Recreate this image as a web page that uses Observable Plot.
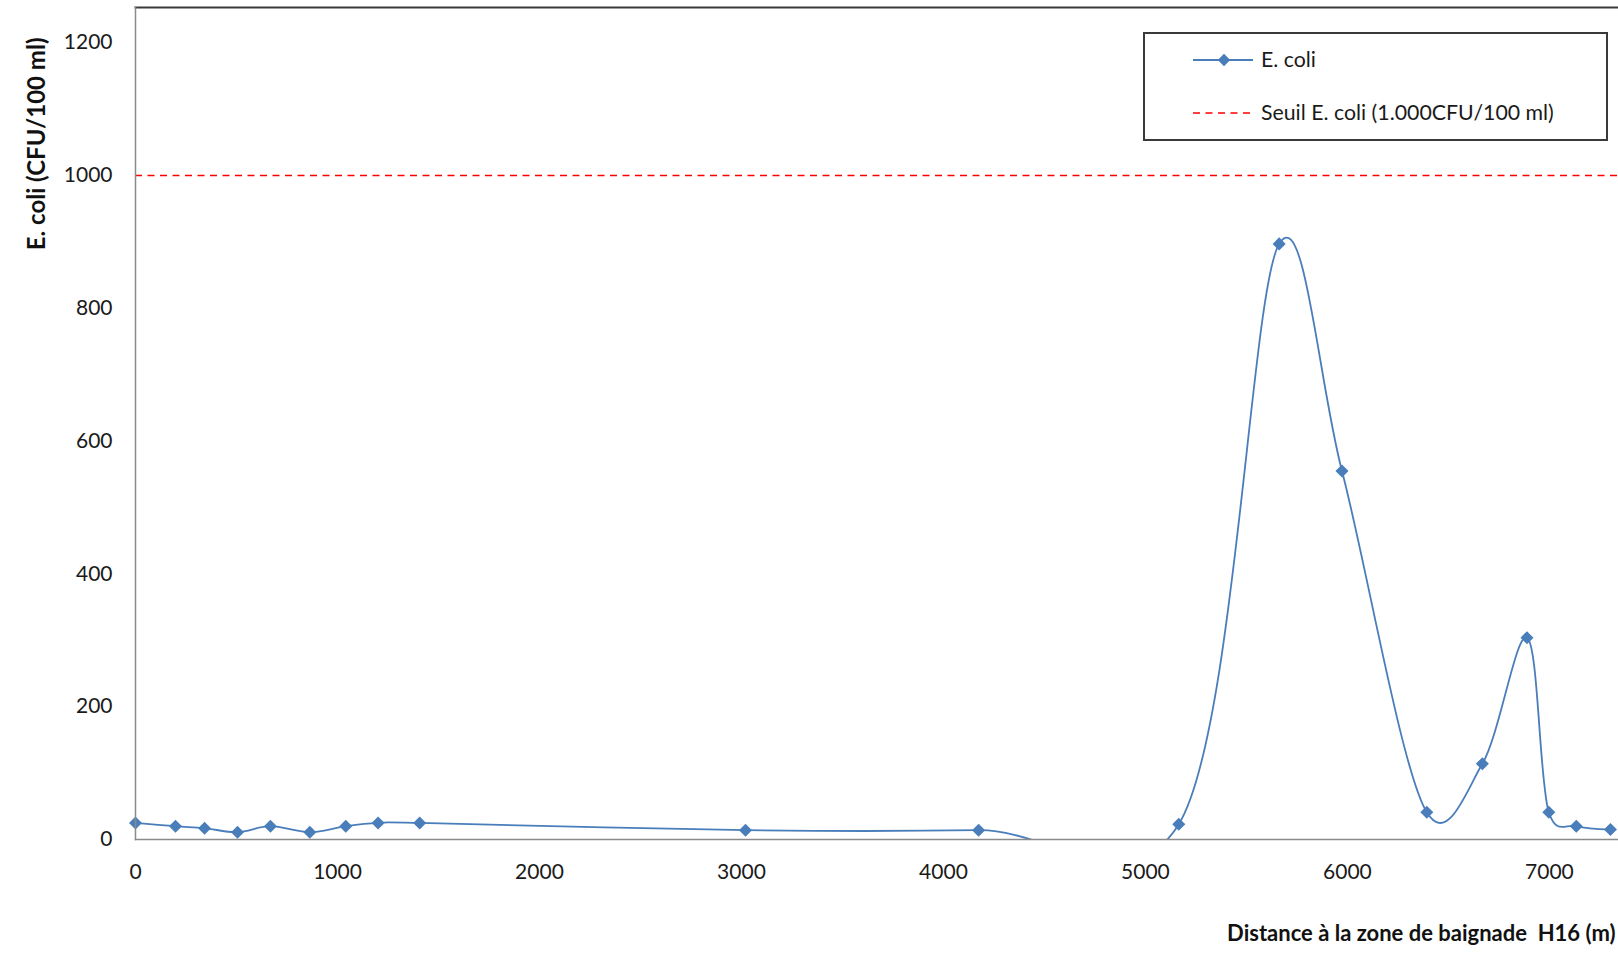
<!DOCTYPE html>
<html>
<head>
<meta charset="utf-8">
<script src="https://cdn.jsdelivr.net/npm/d3@7"></script>
<script src="https://cdn.jsdelivr.net/npm/@observablehq/plot@0.6"></script>
<style>
  html, body { margin: 0; padding: 0; background: white; }
  #wrap { position: relative; width: 1618px; height: 954px; font-family: Lato, "Open Sans", sans-serif; }
  #legend { position: absolute; left: 1143px; top: 32px; width: 461px; height: 105px; border: 2px solid #3a3a3a; background: white; }
  #legend svg { display: block; }
</style>
</head>
<body>
<div id="wrap"></div>
<script>
// ---- data ----
const distances = [0, 198, 342, 505, 668, 863, 1041, 1201, 1407, 3020, 4174, 5165, 5662, 5973, 6393, 6668, 6889, 6997, 7133, 7302];
const ecoli     = [25, 20, 17, 11, 20, 11, 20, 25, 25, 14, 14, 23, 897, 555, 41, 114, 304, 41, 20, 15];
const threshold = [1000];
const xTicks = [0, 1000, 2000, 3000, 4000, 5000, 6000, 7000];
const yTicks = [0, 200, 400, 600, 800, 1000, 1200];
const xDomain = [0, 7342];
const yDomain = [0, 1253];
const seriesName = "E. coli";
const thresholdName = "Seuil E. coli (1.000CFU/100 ml)";
const xTitle = "Distance à la zone de baignade  H16 (m)";
const yTitle = "E. coli (CFU/100 ml)";

const blue = "#4a7ebb";
const red = "#ff0000";

const data = distances.map((d, i) => ({distance: d, value: ecoli[i]}));

const chart = Plot.plot({
  width: 1618,
  height: 954,
  marginLeft: 135,
  marginRight: 0,
  marginTop: 7,
  marginBottom: 115,
  style: {fontFamily: "Lato, 'Open Sans', sans-serif", fontSize: "21px", color: "#1a1a1a", background: "white", overflow: "visible"},
  x: {domain: xDomain},
  y: {domain: yDomain},
  marks: [
    Plot.frame({anchor: "top", stroke: "#3a3a3a", strokeWidth: 2}),
    Plot.ruleY(threshold, {stroke: red, strokeWidth: 1.6, strokeDasharray: "7,5.5"}),
    Plot.line(data, {x: "distance", y: "value", curve: "catmull-rom", tension: 0.12, stroke: blue, strokeWidth: 1.8, clip: true}),
    Plot.dot(data, {x: "distance", y: "value", symbol: "square", rotate: 45, r: 5.2, fill: blue, stroke: "none"}),
    Plot.frame({anchor: "left", stroke: "#8a8a8a", strokeWidth: 1.5}),
    Plot.frame({anchor: "bottom", stroke: "#8a8a8a", strokeWidth: 1.5}),
    Plot.axisX({ticks: xTicks, tickSize: 0, tickPadding: 25, label: null, tickFormat: d => String(d)}),
    Plot.axisY({ticks: yTicks, tickSize: 0, tickPadding: 23, label: null, tickFormat: d => String(d)}),
    Plot.text([xTitle], {frameAnchor: "bottom-right", textAnchor: "end", dx: -3, dy: 101, fontWeight: "bold", fontSize: 22, fill: "#111"}),
    Plot.text([yTitle], {frameAnchor: "top-left", textAnchor: "end", rotate: -90, dx: -108, dy: 30, fontWeight: "bold", fontSize: 24, fill: "#111"})
  ]
});

const wrap = document.getElementById("wrap");
wrap.appendChild(chart);

// legend (inside plot area, top-right), built from the series names and colours
const legend = document.createElement("div");
legend.id = "legend";
const ls = d3.create("svg").attr("width", 461).attr("height", 105);
const rows = [
  {name: seriesName, color: blue, dash: null, marker: true, y: 26},
  {name: thresholdName, color: red, dash: "7,5.5", marker: false, y: 79}
];
for (const r of rows) {
  ls.append("line").attr("x1", 48).attr("x2", 108).attr("y1", r.y).attr("y2", r.y)
    .attr("stroke", r.color).attr("stroke-width", r.marker ? 1.8 : 1.6)
    .attr("stroke-dasharray", r.dash);
  if (r.marker) {
    ls.append("path").attr("d", d3.symbol(d3.symbolSquare, Math.PI * 5 * 5)())
      .attr("transform", `translate(79,${r.y}) rotate(45)`).attr("fill", r.color);
  }
  ls.append("text").attr("x", 116).attr("y", r.y).attr("dy", "0.35em")
    .attr("font-family", "Lato, 'Open Sans', sans-serif").attr("font-size", 21.3).attr("fill", "#1a1a1a")
    .text(r.name);
}
legend.appendChild(ls.node());
wrap.appendChild(legend);
</script>
</body>
</html>
